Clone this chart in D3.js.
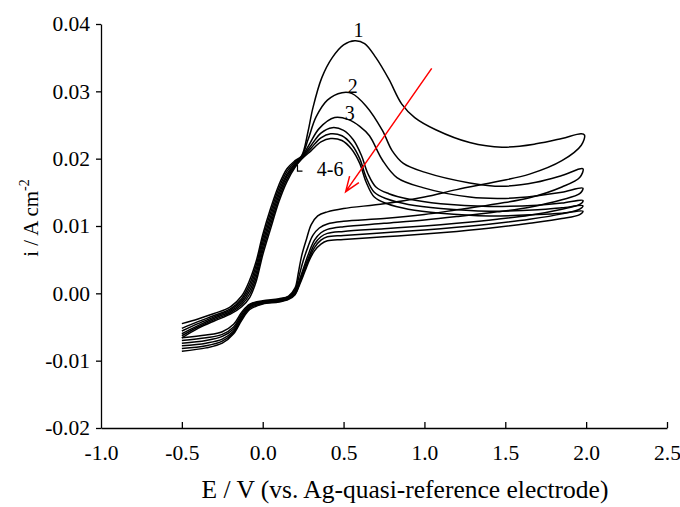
<!DOCTYPE html>
<html>
<head>
<meta charset="utf-8">
<script src="https://cdn.jsdelivr.net/npm/d3@7"></script>
<style>
  body { margin: 0; background: #fff; }
  svg { display: block; font-family: "Liberation Serif", "Times New Roman", serif; }
</style>
</head>
<body>
<div id="chart"></div>
<script>
// axis ticks
const xTicks = [-1.0, -0.5, 0.0, 0.5, 1.0, 1.5, 2.0, 2.5];
const yTicks = [-0.02, -0.01, 0.00, 0.01, 0.02, 0.03, 0.04];

// cycle labels [E, i, text]
const cycleLabels = [
  [0.593, 0.0380, "1"],
  [0.556, 0.0298, "2"],
  [0.538, 0.0257, "3"],
  [0.334, 0.0175, "4-6"]
];

// red arrow (tail -> tip) in E / i
const arrowTail = [1.045, 0.0334];
const arrowTip = [0.513, 0.0151];

// forward scans (-0.5 V -> 2.0 V), [E, i]
const fwd1 = [[-0.50,-0.0045],[-0.40,-0.0038],[-0.30,-0.0030],[-0.20,-0.0020],[-0.13,-0.0004],[-0.08,0.0020],[-0.04,0.0048],[0.00,0.0087],[0.05,0.0127],[0.10,0.0161],[0.15,0.0185],[0.20,0.0197],[0.24,0.0204],[0.28,0.0240],[0.31,0.0275],[0.365,0.0320],[0.43,0.0350],[0.50,0.0369],[0.57,0.0375],[0.63,0.0371],[0.70,0.0350],[0.78,0.0318],[0.86,0.0281],[0.94,0.0261],[1.07,0.0243],[1.28,0.0224],[1.48,0.0217],[1.69,0.0222],[1.85,0.0230],[1.97,0.0237],[1.99,0.0235]];
const fwd2 = [[-0.50,-0.0052],[-0.40,-0.0042],[-0.30,-0.0033],[-0.20,-0.0023],[-0.13,-0.0008],[-0.08,0.0014],[-0.04,0.0042],[0.00,0.0081],[0.05,0.0121],[0.10,0.0156],[0.15,0.0181],[0.20,0.0195],[0.24,0.0203],[0.28,0.0228],[0.33,0.0262],[0.40,0.0287],[0.49,0.0298],[0.55,0.0297],[0.64,0.0278],[0.74,0.0242],[0.80,0.0212],[0.87,0.0193],[1.00,0.0180],[1.28,0.0164],[1.48,0.0159],[1.69,0.0165],[1.85,0.0175],[1.98,0.0185]];
const fwd3 = [[-0.50,-0.0056],[-0.40,-0.0045],[-0.30,-0.0035],[-0.20,-0.0025],[-0.13,-0.0011],[-0.08,0.0009],[-0.04,0.0036],[0.00,0.0075],[0.05,0.0115],[0.10,0.0151],[0.15,0.0177],[0.20,0.0193],[0.24,0.0202],[0.29,0.0222],[0.35,0.0245],[0.445,0.0261],[0.53,0.0258],[0.60,0.0248],[0.66,0.0234],[0.74,0.0198],[0.83,0.0172],[0.99,0.0157],[1.28,0.0143],[1.50,0.0141],[1.70,0.0145],[1.85,0.0150],[1.98,0.0156]];
const fwd4 = [[-0.50,-0.0060],[-0.40,-0.0048],[-0.30,-0.0037],[-0.20,-0.0027],[-0.13,-0.0014],[-0.08,0.0004],[-0.04,0.0030],[0.00,0.0069],[0.05,0.0109],[0.10,0.0146],[0.15,0.0174],[0.20,0.0191],[0.24,0.0201],[0.30,0.0220],[0.36,0.0238],[0.43,0.0246],[0.50,0.0242],[0.56,0.0228],[0.61,0.0205],[0.65,0.0178],[0.70,0.0158],[0.78,0.0148],[0.90,0.0140],[1.10,0.0133],[1.40,0.0129],[1.70,0.0131],[1.85,0.0134],[1.98,0.0138]];
const fwd5 = [[-0.50,-0.0063],[-0.40,-0.0050],[-0.30,-0.0039],[-0.20,-0.0029],[-0.13,-0.0017],[-0.08,-0.0001],[-0.04,0.0024],[0.00,0.0063],[0.05,0.0103],[0.10,0.0141],[0.15,0.0170],[0.20,0.0189],[0.24,0.0200],[0.30,0.0216],[0.36,0.0231],[0.42,0.0237],[0.49,0.0234],[0.55,0.0221],[0.60,0.0200],[0.64,0.0172],[0.69,0.0150],[0.77,0.0140],[0.90,0.0132],[1.10,0.0126],[1.40,0.0122],[1.70,0.0124],[1.85,0.0127],[1.98,0.0130]];
const fwd6 = [[-0.50,-0.0066],[-0.40,-0.0052],[-0.30,-0.0041],[-0.20,-0.0031],[-0.13,-0.0020],[-0.08,-0.0006],[-0.04,0.0018],[0.00,0.0057],[0.05,0.0097],[0.10,0.0136],[0.15,0.0166],[0.20,0.0187],[0.24,0.0199],[0.30,0.0212],[0.36,0.0225],[0.42,0.0230],[0.49,0.0227],[0.55,0.0214],[0.60,0.0193],[0.64,0.0165],[0.69,0.0143],[0.77,0.0133],[0.90,0.0125],[1.10,0.0119],[1.40,0.0115],[1.70,0.0117],[1.85,0.0119],[1.98,0.0122]];

// reverse scans (2.0 V -> -0.5 V), [E, i]
const rev1 = [[1.97,0.0220],[1.85,0.0197],[1.65,0.0177],[1.45,0.0166],[1.20,0.0154],[1.00,0.0143],[0.75,0.0133],[0.50,0.0126],[0.40,0.0121],[0.34,0.0115],[0.30,0.0102],[0.27,0.0080],[0.24,0.0055],[0.22,0.0030],[0.20,0.0008],[0.16,-0.0004],[0.10,-0.0008],[0.00,-0.0011],[-0.08,-0.0016],[-0.13,-0.0028],[-0.18,-0.0046],[-0.25,-0.0057],[-0.35,-0.0062],[-0.50,-0.0066]];
const rev2 = [[1.96,0.0172],[1.85,0.0158],[1.65,0.0142],[1.45,0.0133],[1.20,0.0124],[1.00,0.0117],[0.75,0.0111],[0.50,0.0107],[0.40,0.0103],[0.35,0.0097],[0.31,0.0086],[0.28,0.0069],[0.25,0.0048],[0.225,0.0026],[0.20,0.0005],[0.16,-0.0005],[0.10,-0.0009],[0.00,-0.0012],[-0.08,-0.0017],[-0.13,-0.0031],[-0.18,-0.0050],[-0.25,-0.0061],[-0.35,-0.0066],[-0.50,-0.0070]];
const rev3 = [[1.96,0.0148],[1.85,0.0139],[1.65,0.0128],[1.45,0.0121],[1.20,0.0114],[1.00,0.0109],[0.75,0.0104],[0.50,0.0099],[0.40,0.0095],[0.36,0.0090],[0.32,0.0079],[0.29,0.0063],[0.26,0.0043],[0.23,0.0022],[0.20,0.0003],[0.16,-0.0006],[0.10,-0.0010],[0.00,-0.0013],[-0.08,-0.0019],[-0.13,-0.0034],[-0.18,-0.0053],[-0.25,-0.0064],[-0.35,-0.0070],[-0.50,-0.0074]];
const rev4 = [[1.96,0.0132],[1.85,0.0125],[1.65,0.0116],[1.45,0.0110],[1.20,0.0104],[1.00,0.0100],[0.75,0.0096],[0.50,0.0092],[0.40,0.0089],[0.36,0.0084],[0.32,0.0073],[0.29,0.0057],[0.26,0.0039],[0.23,0.0019],[0.20,0.0001],[0.16,-0.0007],[0.10,-0.0011],[0.00,-0.0014],[-0.08,-0.0020],[-0.13,-0.0036],[-0.18,-0.0056],[-0.25,-0.0068],[-0.35,-0.0074],[-0.50,-0.0078]];
const rev5 = [[1.96,0.0125],[1.85,0.0118],[1.65,0.0110],[1.45,0.0104],[1.20,0.0098],[1.00,0.0094],[0.75,0.0090],[0.50,0.0086],[0.40,0.0084],[0.36,0.0079],[0.32,0.0068],[0.29,0.0053],[0.26,0.0035],[0.23,0.0016],[0.20,-0.0001],[0.16,-0.0008],[0.10,-0.0012],[0.00,-0.0015],[-0.08,-0.0022],[-0.13,-0.0038],[-0.18,-0.0058],[-0.25,-0.0071],[-0.35,-0.0078],[-0.50,-0.0082]];
const rev6 = [[1.96,0.0117],[1.85,0.0111],[1.65,0.0104],[1.45,0.0098],[1.20,0.0092],[1.00,0.0088],[0.75,0.0084],[0.50,0.0080],[0.40,0.0078],[0.36,0.0073],[0.32,0.0063],[0.29,0.0050],[0.26,0.0032],[0.23,0.0014],[0.20,-0.0002],[0.16,-0.0009],[0.10,-0.0013],[0.00,-0.0016],[-0.08,-0.0024],[-0.13,-0.0040],[-0.18,-0.0060],[-0.25,-0.0074],[-0.35,-0.0081],[-0.50,-0.0086]];

const cycles = [
  fwd1.concat(rev1), fwd2.concat(rev2), fwd3.concat(rev3),
  fwd4.concat(rev4), fwd5.concat(rev5), fwd6.concat(rev6)
];

function drawChart() {
  const width = 680;
  const height = 507;

  const svg = d3.select("#chart").append("svg")
    .attr("width", width)
    .attr("height", height);

  const xScale = d3.scaleLinear().domain([-1.0, 2.5]).range([101, 667]);
  const yScale = d3.scaleLinear().domain([-0.02, 0.04]).range([428, 24]);

  // y axis, ticks outward
  const axisY = d3.axisLeft(yScale)
    .tickValues(yTicks)
    .tickSize(5)
    .tickSizeOuter(0)
    .tickPadding(6)
    .tickFormat(d => d.toFixed(2));
  const gy = svg.append("g")
    .attr("transform", "translate(" + xScale(-1.0) + ",0)")
    .call(axisY);

  // x axis, ticks inward
  const axisX = d3.axisBottom(xScale)
    .tickValues(xTicks)
    .tickSize(-6)
    .tickSizeOuter(0)
    .tickPadding(17)
    .tickFormat(d => d.toFixed(1));
  const gx = svg.append("g")
    .attr("transform", "translate(0," + yScale(-0.02) + ")")
    .call(axisX);

  [gx, gy].forEach(function (g) {
    g.selectAll("path, line").attr("stroke", "#000").attr("stroke-width", 1.3);
    g.selectAll("text")
      .attr("fill", "#000")
      .style("font-family", "Liberation Serif, serif")
      .style("font-size", "21.5px");
  });
  gx.select(".tick line").attr("display", "none");

  // axis titles
  svg.append("text")
    .attr("x", 405)
    .attr("y", 498)
    .attr("text-anchor", "middle")
    .style("font-size", "25.5px")
    .text("E / V (vs. Ag-quasi-reference electrode)");

  const yt = svg.append("text")
    .attr("transform", "translate(38,218) rotate(-90)")
    .attr("text-anchor", "middle")
    .style("font-size", "21px");
  yt.append("tspan").text("i / A cm");
  yt.append("tspan").attr("dy", -9).style("font-size", "14px").text("-2");

  // CV curves
  const line = d3.line()
    .x(d => xScale(d[0]))
    .y(d => yScale(d[1]))
    .curve(d3.curveCatmullRom.alpha(0.5));

  svg.append("g")
    .selectAll("path")
    .data(cycles)
    .enter()
    .append("path")
    .attr("d", line)
    .attr("fill", "none")
    .attr("stroke", "#000")
    .attr("stroke-width", 1.5)
    .attr("stroke-linejoin", "round");

  // cycle numbers
  svg.append("g")
    .selectAll("text")
    .data(cycleLabels)
    .enter()
    .append("text")
    .attr("x", d => xScale(d[0]))
    .attr("y", d => yScale(d[1]))
    .attr("text-anchor", d => d[2] == "4-6" ? "start" : "middle")
    .style("font-size", "20px")
    .text(d => d[2]);

  // small hook from "4-6" to the curves
  const hx = xScale(0.215), hy = yScale(0.0186);
  svg.append("path")
    .attr("d", "M" + hx + "," + (hy - 3) + "v6h5")
    .attr("fill", "none")
    .attr("stroke", "#000")
    .attr("stroke-width", 1.2);

  // red arrow
  const tx = xScale(arrowTail[0]), ty = yScale(arrowTail[1]);
  const px = xScale(arrowTip[0]), py = yScale(arrowTip[1]);
  const ang = Math.atan2(ty - py, tx - px);
  const barb = 16, spread = 0.36;
  svg.append("path")
    .attr("d", "M" + tx + "," + ty + "L" + px + "," + py +
      "M" + (px + barb * Math.cos(ang - spread)) + "," + (py + barb * Math.sin(ang - spread)) +
      "L" + px + "," + py +
      "L" + (px + barb * Math.cos(ang + spread)) + "," + (py + barb * Math.sin(ang + spread)))
    .attr("fill", "none")
    .attr("stroke", "#ff0000")
    .attr("stroke-width", 1.5);
}

window.addEventListener("load", drawChart);
</script>
</body>
</html>
